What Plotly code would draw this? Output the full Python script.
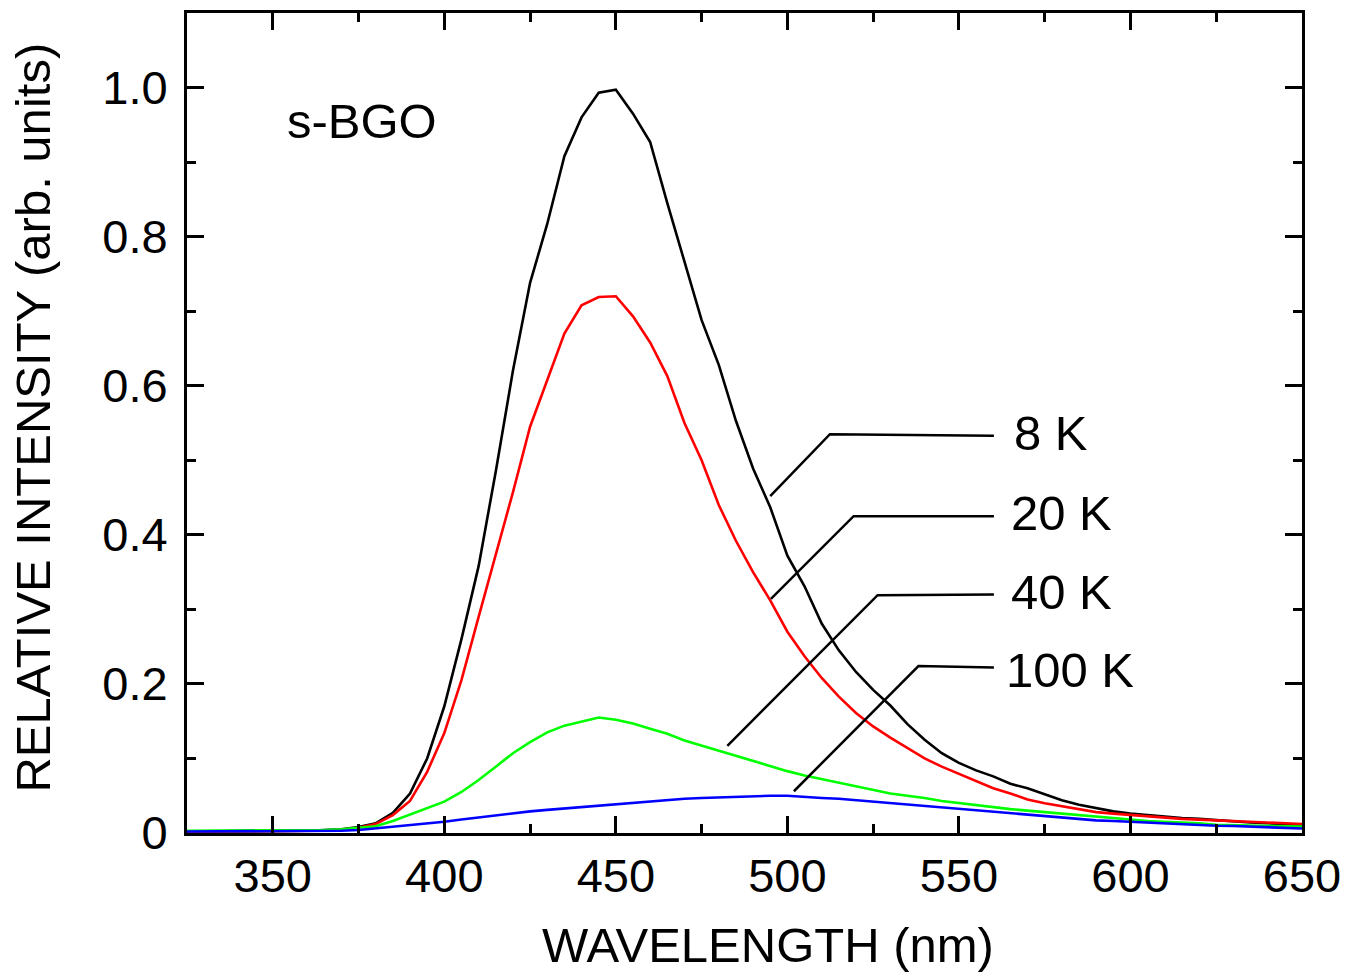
import plotly.graph_objects as go

wavelength = [325, 330, 335, 340, 345, 350, 355, 360, 365, 370, 375, 380, 385, 390, 395,
              400, 405, 410, 415, 420, 425, 430, 435, 440, 445, 450, 455, 460, 465, 470,
              475, 480, 485, 490, 495, 500, 505, 510, 515, 520, 525, 530, 535, 540, 545,
              550, 555, 560, 565, 570, 575, 580, 585, 590, 595, 600, 605, 610, 615, 620,
              625, 630, 635, 640, 645, 650]

k8 = [0.002, 0.002, 0.002, 0.002, 0.002, 0.002, 0.002, 0.003, 0.004, 0.005, 0.008, 0.013, 0.027, 0.053, 0.100,
      0.170, 0.260, 0.358, 0.485, 0.620, 0.738, 0.817, 0.908, 0.960, 0.993, 0.997, 0.965, 0.927, 0.845, 0.765,
      0.688, 0.628, 0.553, 0.489, 0.437, 0.372, 0.331, 0.281, 0.245, 0.216, 0.192, 0.171, 0.146, 0.125, 0.107,
      0.094, 0.084, 0.076, 0.066, 0.060, 0.052, 0.044, 0.038, 0.033, 0.029, 0.026, 0.024, 0.021, 0.020, 0.019,
      0.017, 0.016, 0.014, 0.013, 0.012, 0.010]

k20 = [0.002, 0.002, 0.002, 0.002, 0.002, 0.002, 0.002, 0.002, 0.003, 0.004, 0.007, 0.012, 0.024, 0.043, 0.082,
       0.134, 0.205, 0.290, 0.372, 0.457, 0.545, 0.608, 0.670, 0.708, 0.719, 0.720, 0.693, 0.658, 0.613, 0.550,
       0.500, 0.440, 0.392, 0.350, 0.312, 0.270, 0.237, 0.208, 0.183, 0.161, 0.143, 0.128, 0.114, 0.100, 0.089,
       0.079, 0.070, 0.060, 0.053, 0.045, 0.040, 0.036, 0.032, 0.028, 0.026, 0.024, 0.022, 0.021, 0.019, 0.018,
       0.017, 0.016, 0.015, 0.014, 0.013, 0.012]

k40 = [0.003, 0.003, 0.003, 0.003, 0.003, 0.003, 0.003, 0.003, 0.004, 0.005, 0.007, 0.009, 0.016, 0.025, 0.033,
       0.042, 0.055, 0.071, 0.089, 0.107, 0.122, 0.135, 0.144, 0.150, 0.155, 0.152, 0.147, 0.140, 0.133, 0.124,
       0.117, 0.110, 0.103, 0.097, 0.090, 0.083, 0.077, 0.072, 0.067, 0.063, 0.058, 0.053, 0.050, 0.047, 0.043,
       0.040, 0.037, 0.035, 0.032, 0.030, 0.028, 0.025, 0.023, 0.021, 0.019, 0.017, 0.016, 0.015, 0.014, 0.013,
       0.011, 0.0105, 0.010, 0.009, 0.0088, 0.0085]

k100 = [0.002, 0.002, 0.002, 0.002, 0.002, 0.002, 0.002, 0.002, 0.003, 0.003, 0.004, 0.006, 0.008, 0.010, 0.013,
        0.015, 0.018, 0.021, 0.024, 0.026, 0.029, 0.031, 0.033, 0.035, 0.037, 0.039, 0.041, 0.043, 0.045, 0.046,
        0.047, 0.048, 0.049, 0.050, 0.050, 0.050, 0.049, 0.047, 0.046, 0.044, 0.042, 0.040, 0.038, 0.036, 0.034,
        0.032, 0.030, 0.029, 0.026, 0.024, 0.022, 0.021, 0.019, 0.017, 0.016, 0.015, 0.014, 0.013, 0.011, 0.0105,
        0.0098, 0.0094, 0.0085, 0.0076, 0.007, 0.006]

series_names = ["8 K", "20 K", "40 K", "100 K"]
series_values = [k8, k20, k40, k100]
series_colors = ["#000000", "#FF0000", "#00FF00", "#0000FF"]

# leader lines: (curve point), (elbow), (end); then label positions
leader_pts = [
    [(495.0, 0.452), (512.4, 0.535), (560.2, 0.533)],
    [(495.2, 0.314), (519.3, 0.425), (560.2, 0.425)],
    [(482.5, 0.117), (526.3, 0.319), (560.2, 0.320)],
    [(501.9, 0.056), (538.2, 0.224), (560.2, 0.222)],
]
label_pos = [(565.5, 0.536), (564.7, 0.429), (564.7, 0.323), (563.0, 0.219)]

x_ticks = [350, 400, 450, 500, 550, 600, 650]
y_ticks = [0, 0.2, 0.4, 0.6, 0.8, 1.0]
y_ticktext = ["0", "0.2", "0.4", "0.6", "0.8", "1.0"]

FONT = "Liberation Sans, Arial, sans-serif"

fig = go.Figure()
for name, vals, col in zip(series_names, series_values, series_colors):
    fig.add_trace(go.Scatter(x=wavelength, y=vals, mode="lines", name=name,
                             line=dict(color=col, width=2.6), showlegend=False))

for pts in leader_pts:
    fig.add_trace(go.Scatter(x=[p[0] for p in pts], y=[p[1] for p in pts], mode="lines",
                             line=dict(color="black", width=2.5), showlegend=False,
                             hoverinfo="skip"))

annotations = []
for name, (lx, ly) in zip(series_names, label_pos):
    annotations.append(dict(x=lx, y=ly, xref="x", yref="y", text=name, showarrow=False,
                            xanchor="left", yanchor="middle",
                            font=dict(family=FONT, size=49, color="black")))
annotations.append(dict(x=353.7, y=0.955, xref="x", yref="y", text="s-BGO", showarrow=False,
                        xanchor="left", yanchor="middle",
                        font=dict(family=FONT, size=49, color="black")))
annotations.append(dict(x=0.521, y=-0.1364, xref="paper", yref="paper", text="WAVELENGTH (nm)",
                        showarrow=False, xanchor="center", yanchor="middle",
                        font=dict(family=FONT, size=49, color="black")))
annotations.append(dict(x=-0.139, y=0.5067, xref="paper", yref="paper",
                        text="RELATIVE INTENSITY (arb. units)", textangle=-90,
                        showarrow=False, xanchor="center", yanchor="middle",
                        font=dict(family=FONT, size=49, color="black")))

axis_common = dict(showgrid=False, zeroline=False, showline=True, linecolor="black",
                   linewidth=3, mirror="ticks", ticks="inside", ticklen=17, tickwidth=3,
                   tickcolor="black", tickfont=dict(family=FONT, size=47, color="black"))

fig.update_xaxes(range=[325, 650], tickvals=x_ticks,
                 minor=dict(ticks="inside", ticklen=9, tickwidth=3, tickcolor="black", dtick=25, tick0=325, showgrid=False),
                 ticklabelstandoff=0, **axis_common)
fig.update_yaxes(range=[0, 1.1], tickvals=y_ticks, ticktext=y_ticktext,
                 minor=dict(ticks="inside", ticklen=9, tickwidth=3, tickcolor="black", dtick=0.1, tick0=0, showgrid=False),
                 ticklabelstandoff=7, **axis_common)

fig.update_layout(width=1351, height=976, margin=dict(l=187, r=42, t=10, b=143),
                  plot_bgcolor="white", paper_bgcolor="white", annotations=annotations,
                  font=dict(family=FONT, color="black"))

fig.write_html("out.html")
